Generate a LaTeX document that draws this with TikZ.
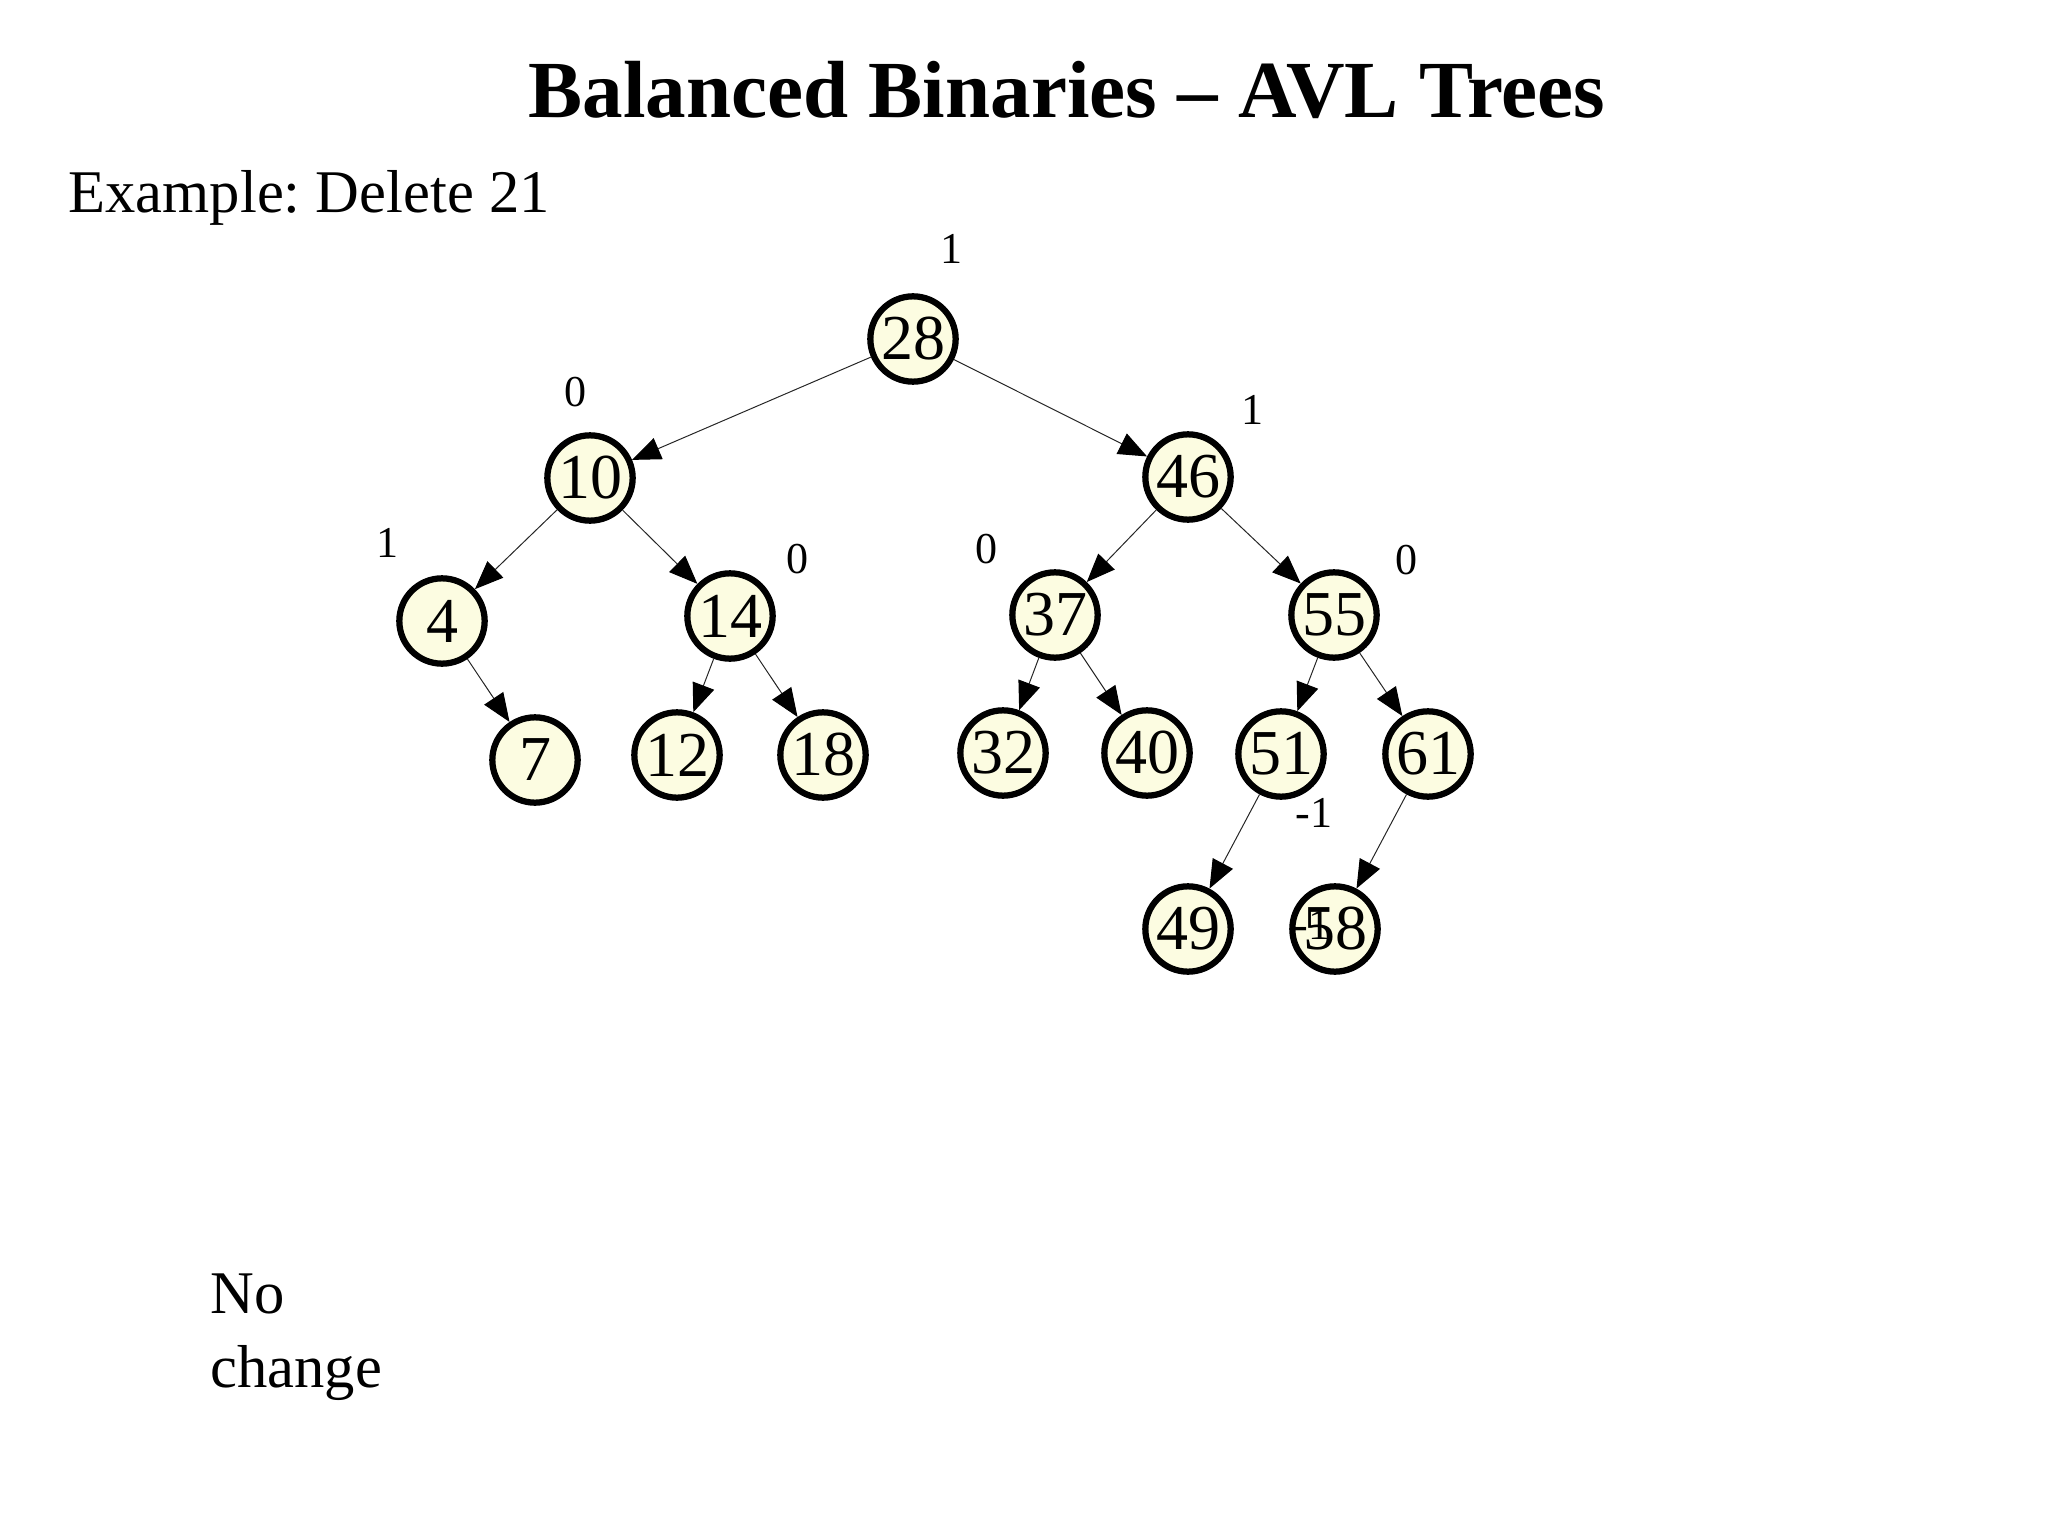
\documentclass[tikz,border=0pt]{standalone}
\usepackage{fontspec}
\setmainfont{Liberation Serif}
\usepackage{tikz}
\usetikzlibrary{arrows.meta, positioning}
\frenchspacing

\definecolor{nodefill}{RGB}{252,252,225}

\begin{document}
\begin{tikzpicture}[x=0.3515625pt, y=-0.3515625pt]

		\tikzset{tree node/.style={
				circle, draw=black, fill=nodefill,
				line width=2.2pt,
				minimum size=30pt,
				inner sep=0pt,
				font=\fontsize{22.5}{24}\selectfont
			},
			balance label/.style={
				inner sep=0pt,
				font=\fontsize{15.5}{18}\selectfont
			},
			child edge/.style={
				draw=black!85, line width=0.35pt,
				-{Triangle[length=10pt,width=8pt,color=black]}
			}
		}

		\useasboundingbox (0,0) rectangle (2048,1535);

		% title and caption
		\node[anchor=base, inner sep=0pt, font=\fontsize{28.5}{32}\selectfont\bfseries] (title) at (1067,118) {Balanced Binaries -- AVL Trees};
		\node[anchor=base west, inner sep=0pt, font=\fontsize{21.3}{26}\selectfont] (example) at (68,213) {Example: Delete 21};

		% tree
		\node[tree node] (n28) at (913,339) {28};
		\node[tree node] (n10) at (590,478) {10};
		\node[tree node] (n46) at (1188,477) {46};
		\node[tree node] (n4)  at (442,621) {4};
		\node[tree node] (n14) at (730,616) {14};
		\node[tree node] (n37) at (1055,615) {37};
		\node[tree node] (n55) at (1334,615) {55};
		\node[tree node] (n7)  at (535,760) {7};
		\node[tree node] (n12) at (677,755) {12};
		\node[tree node] (n18) at (823,755) {18};
		\node[tree node] (n32) at (1003,753) {32};
		\node[tree node] (n40) at (1147,753) {40};
		\node[tree node] (n51) at (1281,754) {51};
		\node[tree node] (n61) at (1428,754) {61};
		\node[tree node] (n49) at (1188,929) {49};
		\node[tree node] (n58) at (1335,929) {58};

		\foreach \from/\to in {n28/n10, n28/n46, n10/n4, n10/n14, n46/n37, n46/n55,
			n4/n7, n14/n12, n14/n18, n37/n32, n37/n40, n55/n51, n55/n61,
			n51/n49, n61/n58}
			\draw[child edge] (\from) -- (\to);

		% balance factors
		\node[balance label] (b28) at (952,249) {1};
		\node[balance label] (b10) at (576,392) {0};
		\node[balance label] (b46) at (1253,410) {1};
		\node[balance label] (b4)  at (388,543) {1};
		\node[balance label] (b14) at (798,559) {0};
		\node[balance label] (b37) at (987,549) {0};
		\node[balance label] (b55) at (1407,560) {0};
		\node[balance label] (b51) at (1314,813) {-1};
		\node[balance label] (b58) at (1312,925) {-1};

		\node[anchor=base west, inner sep=0pt, align=left, font=\fontsize{21.3}{26}\selectfont] (note) at (210,1387) {No\\change};

\end{tikzpicture}
\end{document}
